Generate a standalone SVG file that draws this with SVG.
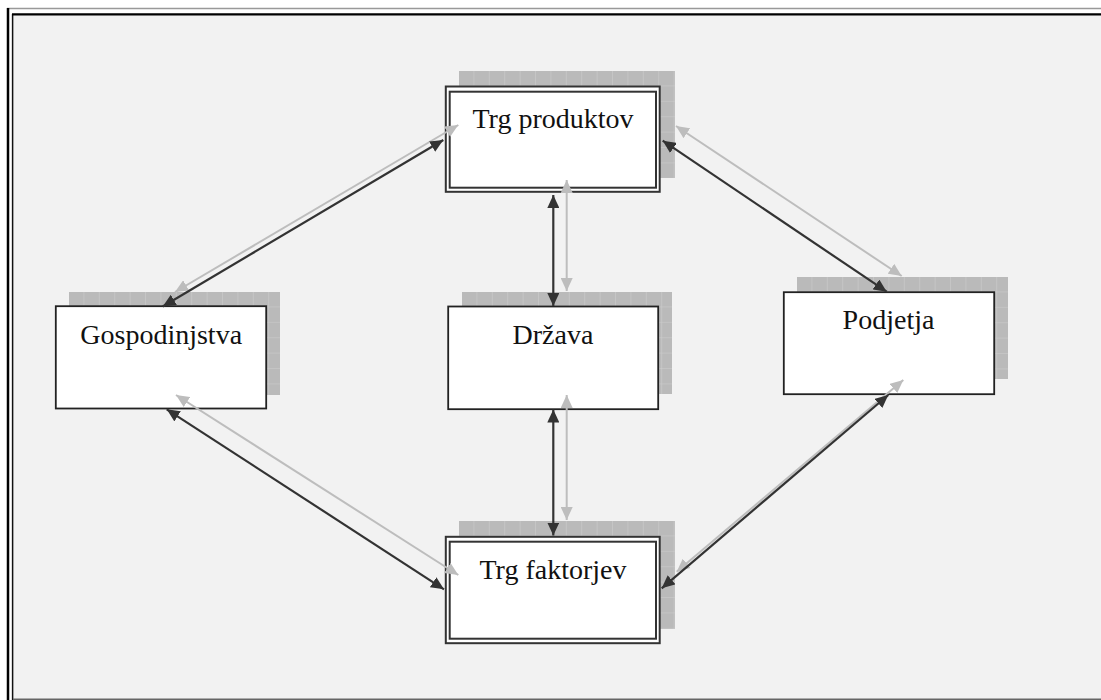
<svg xmlns="http://www.w3.org/2000/svg" width="1101" height="700" viewBox="0 0 1101 700">
<defs>
<style>
.box{fill:#fff;stroke:#222;stroke-width:1.8}
.dbl{fill:#fff;stroke:#333;stroke-width:2}
.lbl{font-family:"Liberation Serif","Times New Roman",serif;font-size:28px;fill:#111;text-anchor:middle}
.shadow{fill:url(#grid)}
.dark{stroke:#333;stroke-width:2.2;fill:none;marker-start:url(#ad);marker-end:url(#ad)}
.light{stroke:#bdbdbd;stroke-width:2;fill:none;marker-start:url(#al);marker-end:url(#al)}
</style>
<pattern id="grid" patternUnits="userSpaceOnUse" width="15.4" height="15.4">
<rect width="15.4" height="15.4" fill="#bababa"/>
<path d="M15.4,0 V15.4 M0,15.4 H15.4" stroke="#cfcfcf" stroke-width="1"/>
</pattern>
<marker id="ad" markerUnits="userSpaceOnUse" markerWidth="13" markerHeight="12" refX="13" refY="6" orient="auto-start-reverse">
<path d="M0,0 L13,6 L0,12 z" fill="#333"/>
</marker>
<marker id="al" markerUnits="userSpaceOnUse" markerWidth="13" markerHeight="12" refX="13" refY="6" orient="auto-start-reverse">
<path d="M0,0 L13,6 L0,12 z" fill="#bdbdbd"/>
</marker>
</defs>
<rect width="1101" height="700" fill="#fff"/>
<rect x="13" y="15" width="1088" height="685" fill="#f2f2f2"/>
<g id="frame" fill="none">
<line x1="7" y1="8.5" x2="1101" y2="8.5" stroke="#999" stroke-width="1.5"/>
<line x1="8" y1="8" x2="8" y2="700" stroke="#000" stroke-width="2.5"/>
<line x1="12.6" y1="14" x2="12.6" y2="700" stroke="#111" stroke-width="1.5"/>
<line x1="12" y1="14.3" x2="1101" y2="14.3" stroke="#000" stroke-width="2.3"/>
<line x1="13" y1="699.3" x2="1101" y2="699.3" stroke="#666" stroke-width="1.5"/>
</g>
<g id="trg-produktov">
<g transform="translate(459,71)"><rect class="shadow" width="216" height="107"/></g>
<rect class="dbl" x="445.8" y="86.5" width="213.9" height="105.3"/>
<rect class="dbl" x="449.7" y="91.7" width="206.3" height="96"/>
<text class="lbl" x="553" y="128.3">Trg produktov</text>
</g>
<g id="gospodinjstva">
<g transform="translate(69,292)"><rect class="shadow" width="211" height="103"/></g>
<rect class="box" x="55.8" y="306.2" width="210.4" height="102.3"/>
<text class="lbl" x="161.2" y="344">Gospodinjstva</text>
</g>
<g id="drzava">
<g transform="translate(462,292)"><rect class="shadow" width="210" height="102"/></g>
<rect class="box" x="448.2" y="306.5" width="210" height="102.7"/>
<text class="lbl" x="553" y="344">Država</text>
</g>
<g id="podjetja">
<g transform="translate(797,277)"><rect class="shadow" width="211" height="102"/></g>
<rect class="box" x="783.8" y="292.2" width="210.4" height="102"/>
<text class="lbl" x="888.5" y="329">Podjetja</text>
</g>
<g id="trg-faktorjev">
<g transform="translate(459,521)"><rect class="shadow" width="216" height="108"/></g>
<rect class="dbl" x="445.8" y="536.8" width="213.9" height="106.4"/>
<rect class="dbl" x="449.7" y="541.7" width="206.3" height="97"/>
<text class="lbl" x="553" y="579">Trg faktorjev</text>
</g>
<g id="connectors">
<line class="light" x1="175" y1="292" x2="458.3" y2="125"/>
<line class="light" x1="676" y1="126" x2="901.7" y2="276"/>
<line class="light" x1="566.7" y1="180" x2="566.7" y2="291"/>
<line class="light" x1="566.7" y1="395" x2="566.7" y2="520"/>
<line class="light" x1="176" y1="395" x2="458.3" y2="575"/>
<line class="light" x1="676.7" y1="571.7" x2="903.3" y2="380"/>
<line class="dark" x1="162.7" y1="306.5" x2="443.3" y2="140"/>
<line class="dark" x1="662.7" y1="140.7" x2="886.7" y2="291.7"/>
<line class="dark" x1="553.3" y1="195" x2="553.3" y2="306"/>
<line class="dark" x1="553.3" y1="409.5" x2="553.3" y2="535.5"/>
<line class="dark" x1="166.7" y1="409.3" x2="444" y2="589.3"/>
<line class="dark" x1="661.7" y1="588.3" x2="888.3" y2="395"/>
</g>
</svg>
